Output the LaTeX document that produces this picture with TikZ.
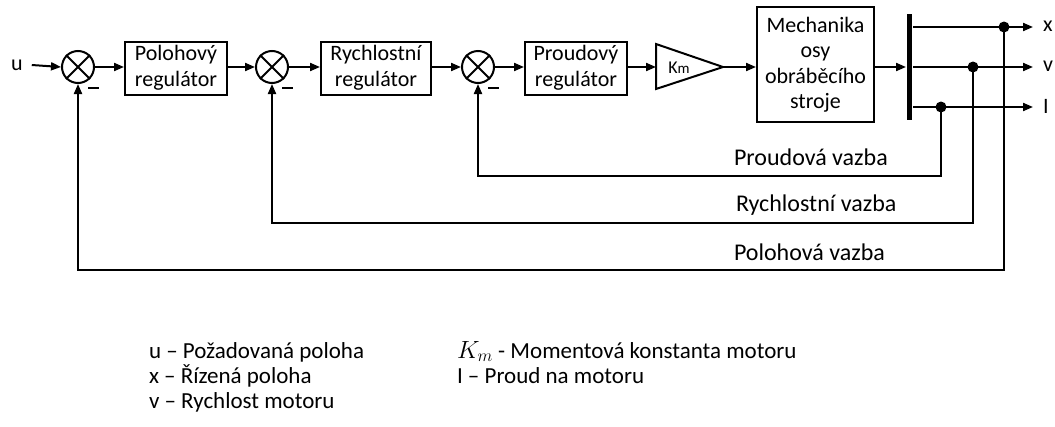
\documentclass[tikz,border=0pt]{standalone}
\usepackage{fontspec}
\setmainfont{Carlito}
\usetikzlibrary{arrows.meta,calc}
\begin{document}
\begin{tikzpicture}[x=1pt,y=-1pt,line width=2pt,
  txt/.style={font=\fontsize{22}{25.5}\selectfont, inner sep=0pt},
  fbtxt/.style={font=\fontsize{24}{26}\selectfont, inner sep=0pt},
  legtxt/.style={font=\fontsize{23}{25}\selectfont, inner sep=0pt},
  blk/.style={draw, rectangle, align=center, font=\fontsize{22}{25.5}\selectfont, inner sep=0pt},
  sum/.style={draw, circle, minimum size=32pt, inner sep=0pt},
  arr/.style={-{Triangle[length=10pt,width=8pt]}},
  dot/.style={circle, fill, minimum size=11pt, inner sep=0pt},
  minusbar/.style={line width=2.6pt}]
\useasboundingbox (0,0) rectangle (1055,426);

% input
\node[txt] (u) at (17,65) {u};

% summing junctions
\node[sum] (s1) at (78,67) {};
\node[sum] (s2) at (272,67) {};
\node[sum] (s3) at (478,67) {};
\foreach \s in {s1,s2,s3}{
  \draw (\s.north east) -- (\s.south west) (\s.north west) -- (\s.south east);
  \draw[minusbar] ($(\s)+(10,21)$) -- ($(\s)+(21,21)$);
}

% controller blocks
\node[blk, minimum width=102pt, minimum height=53pt] (b1) at (176,68) {Polohový\\regulátor};
\node[blk, minimum width=110pt, minimum height=53pt] (b2) at (376,68) {Rychlostní\\regulátor};
\node[blk, minimum width=102pt, minimum height=53pt] (b3) at (576,68) {Proudový\\regulátor};

% torque constant gain
\coordinate (tin) at (656,67);
\coordinate (tout) at (723,67);
\draw[line join=miter] (656,44) -- (tout) -- (656,89) -- cycle;
\node[inner sep=0pt, font=\fontsize{18}{18}\selectfont] (km) at (679,68) {K{\fontsize{15}{15}\selectfont m}};

% machine axis mechanics
\node[blk, minimum width=117pt, minimum height=115pt] (mech) at (815.5,64.5) {Mechanika\\osy\\obráběcího\\stroje};

% branching bar
\node[fill, rectangle, minimum width=5pt, minimum height=106pt, inner sep=0pt] (bar) at (909.5,67) {};

% forward path
\draw[arr] (u.east) ++(8,0) -- (s1.west);
\draw[arr] (s1.east) -- (s1.east -| b1.west);
\draw[arr] (b1.east |- s2) -- (s2.west);
\draw[arr] (s2.east) -- (s2.east -| b2.west);
\draw[arr] (b2.east |- s3) -- (s3.west);
\draw[arr] (s3.east) -- (s3.east -| b3.west);
\draw[arr] (b3.east |- tin) -- (tin);
\draw[arr] (tout) -- (tout -| mech.west);
\draw[arr] (mech.east |- bar) -- (bar.west);

% outputs
\coordinate (ox) at (1033,27);
\coordinate (ov) at (1033,67);
\coordinate (oI) at (1033,107);
\node[dot] (dx) at (1004,27) {};
\node[dot] (dv) at (973,67) {};
\node[dot] (dI) at (941,107) {};
\draw[arr] (bar.east |- ox) -- (ox);
\draw[arr] (bar.east |- ov) -- (ov);
\draw[arr] (bar.east |- oI) -- (oI);
\node[txt, anchor=west] (lx) at (1042,26) {x};
\node[txt, anchor=west] (lv) at (1042,66) {v};
\node[txt, anchor=west] (lI) at (1042,106) {I};

% feedback loops
\draw[arr] (dI.center) -- ++(0,69) -| (s3.south);
\draw[arr] (dv.center) -- ++(0,156) -| (s2.south);
\draw[arr] (dx.center) -- ++(0,243) -| (s1.south);
\node[fbtxt, anchor=base west] (fI) at (733,165) {Proudová vazba};
\node[fbtxt, anchor=base west] (fv) at (735,211) {Rychlostní vazba};
\node[fbtxt, anchor=base west] (fx) at (733,260) {Polohová vazba};

% legend
\node[legtxt, anchor=base west] (g1) at (148,358) {u – Požadovaná poloha};
\node[legtxt, anchor=base west] (g2) at (148,383) {x – Řízená poloha};
\node[legtxt, anchor=base west] (g3) at (148,408) {v – Rychlost motoru};
\node[legtxt, anchor=base west] (g4) at (456,358) {$K_m$ - Momentová konstanta motoru};
\node[legtxt, anchor=base west] (g5) at (456,383) {I – Proud na motoru};
\end{tikzpicture}
\end{document}
